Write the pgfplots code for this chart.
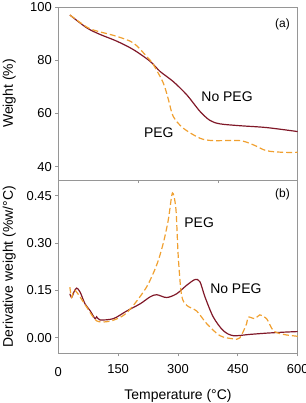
\documentclass[border=0pt]{standalone}
\usepackage{pgfplots}
\pgfplotsset{compat=1.18}
\usepackage{fontspec}
\setmainfont{Liberation Sans}
\definecolor{noPEG}{RGB}{128,24,40}
\definecolor{withPEG}{RGB}{240,160,48}
\definecolor{frame}{RGB}{150,150,150}

\pgfplotsset{
  tgapanel/.style={
    scale only axis,
    width=239.4bp,
    xmin=0, xmax=600,
    axis line style={frame, line width=0.7pt},
    tick style={frame, line width=0.7pt},
    tick align=outside,
    major tick length=3bp,
    xtick pos=bottom, ytick pos=left,
    tick label style={font=\fontsize{13}{15}\selectfont},
    label style={font=\fontsize{14}{16}\selectfont},
    ylabel style={at={(axis description cs:-0.205,0.5)}, anchor=center},
    clip=false,
  },
}

\begin{document}
\begin{tikzpicture}[x=1bp,y=1bp]
% (a) mass loss
\begin{axis}[tgapanel,
  at={(58.3bp,-7bp)}, anchor=north west,
  height=173bp,
  ymin=35, ymax=100,
  ytick={40,60,80,100},
  yticklabels={40,60,80,100},
  xtick={200,400}, xticklabels={},
  ylabel={Weight (\%)},
]
\addplot[noPEG, line width=1.2pt, smooth] coordinates {
 (29,97) (71,92.2) (104.5,89.7) (146,87.2) (188,84) (230,79.6) (255,75.8)
 (288,72) (322,67) (355,60.8) (380,57.4) (405,56.1) (455,55.4) (522,54.7) (600,53.2)
};
\addplot[withPEG, line width=1.2pt, dash pattern=on 6bp off 3bp, smooth] coordinates {
 (29,97) (71,92.5) (96,91) (146,89) (188,86.5) (221,81.5) (238,78.4) (263,71.5)
 (276,65.2) (288,58.9) (313,54.5) (355,50.7) (388,49.8) (455,49.8) (489,48.2)
 (522,46) (564,45.4) (600,45.4)
};
\node[font=\fontsize{14}{16}\selectfont] at (axis cs:423,66.2) {No PEG};
\node[font=\fontsize{14}{16}\selectfont] at (axis cs:252,52.8) {PEG};
\node[font=\fontsize{12}{14}\selectfont] at (axis cs:562,93.6) {(a)};
\end{axis}

% (b) derivative
\begin{axis}[tgapanel,
  at={(58.3bp,-180bp)}, anchor=north west,
  height=173.3bp,
  ymin=-0.05, ymax=0.5,
  ytick={0,0.15,0.30,0.45},
  yticklabels={0.00,0.15,0.30,0.45},
  xtick={150,300,450,600},
  xticklabels={150,300,450,600},
  xticklabel style={yshift=-5bp},
  xlabel={Temperature (\textdegree C)},
  ylabel={Derivative weight (\%w/\textdegree C)},
  xlabel style={at={(axis description cs:0.5,0)}, anchor=center, yshift=-43bp},
]
\addplot[noPEG, line width=1.2pt, smooth] coordinates {
 (29,0.139) (33.5,0.127) (39.3,0.145) (46,0.157) (54.4,0.145) (67,0.107)
 (79.4,0.086) (92,0.060) (96,0.066) (104.5,0.056) (138,0.060) (171,0.084)
 (205,0.107) (230,0.129) (246.5,0.136) (271.6,0.127) (296.7,0.139) (321.8,0.166)
 (342.6,0.184) (355,0.177) (367.6,0.129) (388.5,0.065) (413.5,0.022)
 (438.5,0.006) (480,0.010) (522,0.014) (564,0.017) (600,0.019)
};
\addplot[withPEG, line width=1.2pt, dash pattern=on 6bp off 3bp, smooth] coordinates {
 (29,0.160) (33.5,0.128) (41.8,0.150) (71,0.097) (96,0.053) (129.6,0.052)
 (163,0.070) (188,0.102) (221.5,0.161) (246.5,0.230) (263,0.299) (275.6,0.373)
 (284,0.448) (288,0.457) (295,0.405) (300.7,0.256) (309,0.134) (322,0.102)
 (347,0.084) (372,0.044) (405,0.006) (438.5,-0.004) (455,-0.001) (472,0.044)
 (476,0.065) (493,0.060) (505,0.072) (522,0.060) (539,0.022) (564,0.010) (600,0.004)
};
\node[font=\fontsize{14}{16}\selectfont] at (axis cs:353,0.364) {PEG};
\node[font=\fontsize{14}{16}\selectfont] at (axis cs:445,0.156) {No PEG};
\node[font=\fontsize{12}{14}\selectfont] at (axis cs:562,0.455) {(b)};
% origin tick label of the temperature axis
\node[font=\fontsize{13}{15}\selectfont, anchor=center, yshift=-18.4bp] at (axis cs:0,-0.05) {0};
\end{axis}

\pgfresetboundingbox
\path[use as bounding box] (0bp,0bp) rectangle (306bp,-403bp);
\end{tikzpicture}
\end{document}
